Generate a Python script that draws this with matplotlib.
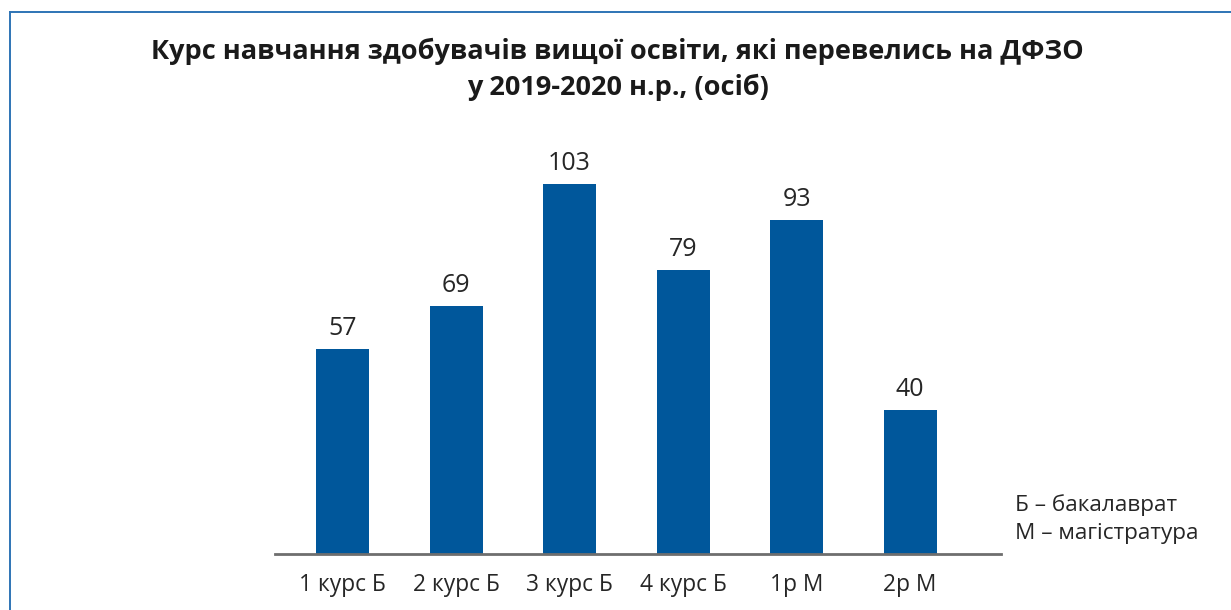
import matplotlib
matplotlib.use("Agg")
import matplotlib.pyplot as plt
from matplotlib.lines import Line2D

categories = ["1 курс Б", "2 курс Б", "3 курс Б", "4 курс Б", "1р М", "2р М"]
values = [57, 69, 103, 79, 93, 40]
title = "Курс навчання здобувачів вищої освіти, які перевелись на ДФЗО\nу 2019-2020 н.р., (осіб)"
legend_lines = ["Б – бакалаврат", "М – магістратура"]

plt.rcParams['font.family'] = ['Open Sans', 'DejaVu Sans']

W, H = 1231, 610
fig = plt.figure(figsize=(W / 100, H / 100), dpi=100)

# axes placement in pixels
x0, x1 = 275, 1001
yb = 554
ymax = 110
scale = 3.59
ax = fig.add_axes([x0 / W, 1 - yb / H, (x1 - x0) / W, ymax * scale / H])

pos = list(range(len(categories)))
bars = ax.bar(pos, values, width=0.467, color="#00579B", zorder=2)
ax.set_xlim(-0.595, 5.80)
ax.set_ylim(0, ymax)

for p, v in zip(pos, values):
    ax.annotate(str(v), (p, v), xytext=(0, 6), textcoords="offset points",
                ha="center", va="bottom", fontsize=18, color="#262626")

for s in ["top", "right", "left"]:
    ax.spines[s].set_visible(False)
ax.spines["bottom"].set_color("#6e6e6e")
ax.spines["bottom"].set_linewidth(2)
ax.spines["bottom"].set_zorder(3)
ax.set_yticks([])
ax.set_xticks(pos)
ax.set_xticklabels(categories, fontsize=16.4, color="#262626")
ax.tick_params(axis="x", length=0, pad=13.5)

fig.text(617.5 / W, 1 - 69 / H, title, ha="center", va="center",
         fontsize=19.5, fontweight="bold", color="#1a1a1a", linespacing=1.42)

fig.text(1015 / W, 1 - 505 / H, legend_lines[0], ha="left", va="center",
         fontsize=16.2, color="#262626")
fig.text(1015 / W, 1 - 533 / H, legend_lines[1], ha="left", va="center",
         fontsize=16.2, color="#262626")

# frame lines (left and top)
fig.add_artist(Line2D([9.5 / W, 9.5 / W], [0, 1 - 12 / H], transform=fig.transFigure,
                      color="#2E74B5", linewidth=1.4))
fig.add_artist(Line2D([9.5 / W, 1], [1 - 12 / H, 1 - 12 / H], transform=fig.transFigure,
                      color="#2E74B5", linewidth=1.4))

fig.savefig("out.png", dpi=100, facecolor="white")
